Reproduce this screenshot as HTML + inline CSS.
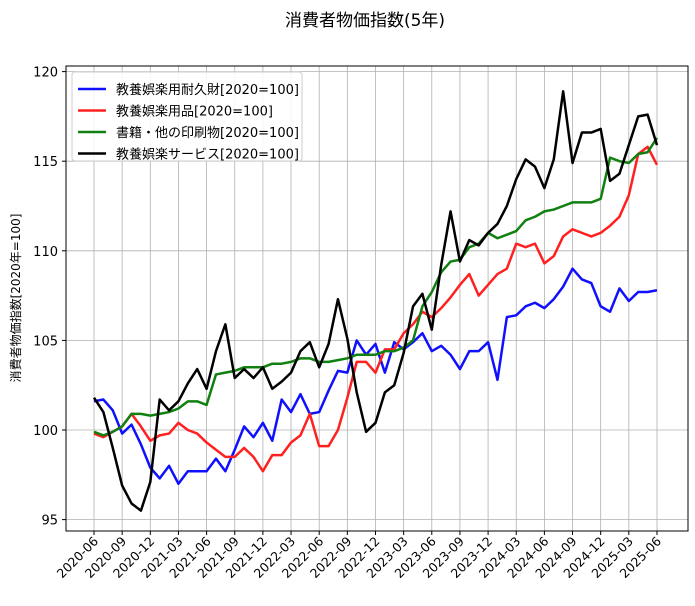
<!DOCTYPE html>
<html><head><meta charset="utf-8">
<style>
body{margin:0;background:#fff;font-family:"DejaVu Sans","Noto Sans CJK JP",sans-serif;}
svg text{font-family:"DejaVu Sans","Noto Sans CJK JP",sans-serif;}
</style></head>
<body>
<svg id="chart" width="695" height="602" viewBox="0 0 695 602" xmlns="http://www.w3.org/2000/svg">
<text x="365" y="26" font-size="17" text-anchor="middle">消費者物価指数(5年)</text>
<g id="grid"></g>
<g id="series"></g>
<rect x="66" y="66" width="622" height="465" fill="none" stroke="#000" stroke-width="1"/>
<g id="axes"></g>
<text transform="translate(20,298) rotate(-90)" font-size="12" text-anchor="middle">消費者物価指数[2020年=100]</text>
<g id="legend"></g>
</svg>
<script>
const startYear = 2020, startMonth = 6;
const blueVals = [101.6,101.7,101.1,99.8,100.3,99.2,97.9,97.3,98.0,97.0,97.7,97.7,97.7,98.4,97.7,98.9,100.2,99.6,100.4,99.4,101.7,101.0,102.0,100.9,101.0,102.2,103.3,103.2,105.0,104.2,104.8,103.2,104.9,104.5,104.9,105.4,104.4,104.7,104.2,103.4,104.4,104.4,104.9,102.8,106.3,106.4,106.9,107.1,106.8,107.3,108.0,109.0,108.4,108.2,106.9,106.6,107.9,107.2,107.7,107.7,107.8];
const redVals = [99.8,99.6,99.9,100.2,100.9,100.2,99.4,99.7,99.8,100.4,100.0,99.8,99.3,98.9,98.5,98.5,99.0,98.5,97.7,98.6,98.6,99.3,99.7,100.9,99.1,99.1,100.0,101.8,103.8,103.8,103.2,104.5,104.5,105.4,105.9,106.6,106.3,106.8,107.4,108.1,108.7,107.5,108.1,108.7,109.0,110.4,110.2,110.4,109.3,109.7,110.8,111.2,111.0,110.8,111.0,111.4,111.9,113.1,115.4,115.8,114.8];
const greenVals = [99.9,99.7,99.9,100.2,100.9,100.9,100.8,100.9,101.0,101.2,101.6,101.6,101.4,103.1,103.2,103.3,103.5,103.5,103.5,103.7,103.7,103.8,104.0,104.0,103.8,103.8,103.9,104.0,104.2,104.2,104.2,104.4,104.4,104.6,105.0,106.9,107.7,108.8,109.4,109.5,110.2,110.4,111.0,110.7,110.9,111.1,111.7,111.9,112.2,112.3,112.5,112.7,112.7,112.7,112.9,115.2,115.0,114.9,115.4,115.5,116.3];
const blackVals = [101.8,101.0,99.0,96.9,95.9,95.5,97.1,101.7,101.1,101.6,102.6,103.4,102.3,104.4,105.9,102.9,103.4,102.9,103.5,102.3,102.7,103.2,104.4,104.9,103.5,104.8,107.3,105.1,102.1,99.9,100.4,102.1,102.5,104.3,106.9,107.6,105.6,109.2,112.2,109.4,110.6,110.3,111.0,111.5,112.5,114.0,115.1,114.7,113.5,115.1,118.9,114.9,116.6,116.6,116.8,113.9,114.3,115.9,117.5,117.6,115.9];
const seriesNames = ["教養娯楽用耐久財[2020=100]","教養娯楽用品[2020=100]","書籍・他の印刷物[2020=100]","教養娯楽サービス[2020=100]"];
const seriesColors = ["#1010ff","#ff2020","#108010","#000000"];
const yTicks = [95,100,105,110,115,120];

const NS="http://www.w3.org/2000/svg";
const X0=94, XSTEP=9.383, Y100=430, YPU=17.92;
const x=i=>X0+i*XSTEP;
const y=v=>Y100-(v-100)*YPU;
function mk(tag,attrs,parent){const e=document.createElementNS(NS,tag);for(const k in attrs)e.setAttribute(k,attrs[k]);parent.appendChild(e);return e;}
const grid=document.getElementById('grid'),axes=document.getElementById('axes'),ser=document.getElementById('series'),leg=document.getElementById('legend');
const n=blueVals.length;
for(let i=0;i<n;i+=3){
  const m=(startMonth-1+i)%12+1, yr=startYear+Math.floor((startMonth-1+i)/12);
  const lbl=yr+"-"+String(m).padStart(2,'0');
  const gl=mk('line',{x1:x(i),x2:x(i),y1:66,y2:531,stroke:'#b0b0b0','stroke-width':0.8},grid);
  
  
  const tk=mk('line',{x1:x(i),x2:x(i),y1:531,y2:535,stroke:'#000'},axes);
  
  
  const t=mk('text',{x:0,y:0,'font-size':12.5,'text-anchor':'end',transform:`translate(${x(i)+5},${542}) rotate(-45)`},axes);
  t.textContent=lbl;
  
  
}
yTicks.forEach(v=>{
  const gl=mk('line',{x1:66,x2:688,y1:y(v),y2:y(v),stroke:'#b0b0b0','stroke-width':0.8},grid);
  
  
  const tk=mk('line',{x1:62,x2:66,y1:y(v),y2:y(v),stroke:'#000'},axes);
  
  
  const t=mk('text',{x:58,y:y(v)+5,'font-size':13,'text-anchor':'end'},axes);
  t.textContent=v;
  
  
});
[blueVals,redVals,greenVals,blackVals].forEach((vals,k)=>{
  const p=mk('polyline',{points:vals.map((v,i)=>x(i)+','+y(v)).join(' '),fill:'none',stroke:seriesColors[k],'stroke-width':2.5,'stroke-linejoin':'round'},ser);
  
  
});
const box=mk('rect',{x:72,y:72,width:230,height:89,fill:'#fff','fill-opacity':0.85,stroke:'#ccc',rx:3},leg);


seriesNames.forEach((s,k)=>{
  const yy=89+k*21.5;
  const l=mk('line',{x1:78,x2:106,y1:yy,y2:yy,stroke:seriesColors[k],'stroke-width':2.5},leg);
  
  
  const t=mk('text',{x:116,y:yy+5,'font-size':13},leg);
  t.textContent=s;
  
  
});
</script>
</body></html>
